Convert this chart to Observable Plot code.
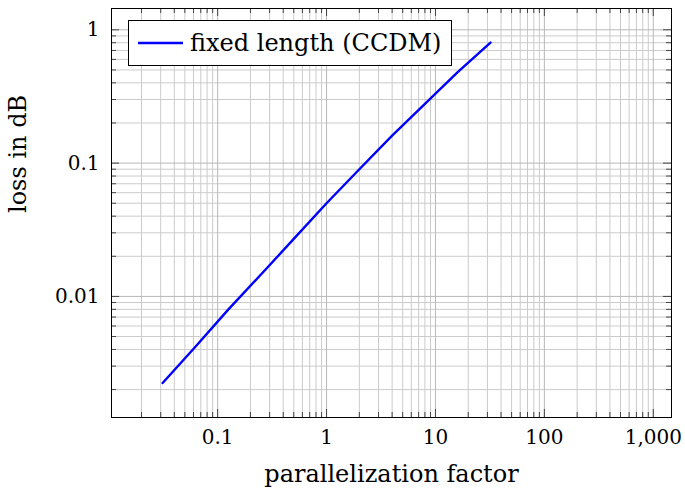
<!DOCTYPE html>
<html><head><meta charset="utf-8">
<script src="https://cdn.jsdelivr.net/npm/d3@7"></script>
<script src="https://cdn.jsdelivr.net/npm/@observablehq/plot@0.6"></script>
<style>
body{margin:0;background:#fff;}
#chart{position:relative;width:685px;height:494px;}
</style></head><body><div id="chart"></div>
<script>
// data
const factors = [1/32, 1/16, 1/8, 1/4, 1/2, 1, 2, 4, 8, 16, 32];
const lossDb  = [0.00224, 0.00419, 0.00796, 0.0146, 0.0270, 0.0500, 0.0900, 0.1607, 0.278, 0.482, 0.802];
const seriesName = "fixed length (CCDM)";
const xTickValues = [0.1, 1, 10, 100, 1000];
const xTickLabels = ["0.1", "1", "10", "100", "1,000"];
const yTickValues = [0.01, 0.1, 1];
const yTickLabels = ["0.01", "0.1", "1"];
const xLabel = "parallelization factor";
const yLabel = "loss in dB";
const xDomain = [0.0106, 1470];
const yDomain = [0.001235, 1.445];

const W = 685, H = 494, mL = 111, mR = 14, mT = 8, mB = 77;
const innerH = H - mT - mB, innerW = W - mL - mR;
const FONT = "DejaVu Serif";
const FS_TICK = 20, FS_LABEL = 24;

function minorTicks(domain) {
  const out = [];
  for (let e = -4; e <= 4; e++) for (let k = 2; k <= 9; k++) {
    const v = k * Math.pow(10, e);
    if (v >= domain[0] && v <= domain[1]) out.push(v);
  }
  return out;
}
const xMinor = minorTicks(xDomain);
const yMinor = minorTicks(yDomain);
const data = factors.map((x, i) => ({x, y: lossDb[i]}));
const xFmt = new Map(xTickValues.map((v, i) => [v, xTickLabels[i]]));
const yFmt = new Map(yTickValues.map((v, i) => [v, yTickLabels[i]]));

const gridMinor = "#cbcbcb", gridMajor = "#b8b8b8", tickCol = "#444";
const majLen = 8, minLen = 5;

const plot = Plot.plot({
  width: W, height: H,
  marginLeft: mL, marginRight: mR, marginTop: mT, marginBottom: mB,
  style: {fontFamily: FONT, fontSize: FS_TICK + "px", color: "#000", background: "#fff"},
  x: {type: "log", domain: xDomain},
  y: {type: "log", domain: yDomain},
  marks: [
    Plot.ruleX(xMinor, {stroke: gridMinor, strokeWidth: 1}),
    Plot.ruleY(yMinor, {stroke: gridMinor, strokeWidth: 1}),
    Plot.ruleX(xTickValues, {stroke: gridMajor, strokeWidth: 1}),
    Plot.ruleY(yTickValues, {stroke: gridMajor, strokeWidth: 1}),
    // inward ticks on all four sides
    Plot.tickX(xMinor, {insetTop: innerH - minLen, stroke: tickCol}),
    Plot.tickX(xMinor, {insetBottom: innerH - minLen, stroke: tickCol}),
    Plot.tickX(xTickValues, {insetTop: innerH - majLen, stroke: tickCol}),
    Plot.tickX(xTickValues, {insetBottom: innerH - majLen, stroke: tickCol}),
    Plot.tickY(yMinor, {insetRight: innerW - minLen, stroke: tickCol}),
    Plot.tickY(yMinor, {insetLeft: innerW - minLen, stroke: tickCol}),
    Plot.tickY(yTickValues, {insetRight: innerW - majLen, stroke: tickCol}),
    Plot.tickY(yTickValues, {insetLeft: innerW - majLen, stroke: tickCol}),
    Plot.line(data, {x: "x", y: "y", stroke: "#0000ff", strokeWidth: 2.4}),
    Plot.frame({stroke: "#000", strokeWidth: 1}),
    Plot.axisX(xTickValues, {tickSize: 0, tickPadding: 12, tickFormat: d => xFmt.get(d), label: null, fontVariant: "normal"}),
    Plot.axisY(yTickValues, {tickSize: 0, tickPadding: 12, tickFormat: d => yFmt.get(d), label: null, fontVariant: "normal"}),
    Plot.text([xLabel], {frameAnchor: "bottom", dy: 64, text: d => d, fontSize: FS_LABEL}),
    Plot.text([yLabel], {frameAnchor: "left", rotate: -90, dx: -93, text: d => d, fontSize: FS_LABEL})
  ]
});
document.getElementById("chart").appendChild(plot);

// legend (inside the plot, upper left)
const svg = d3.select(plot);
const lg = svg.append("g").attr("text-anchor", "start");
lg.append("rect").attr("x", 128.5).attr("y", 20.5).attr("width", 323).attr("height", 45)
  .attr("fill", "#fff").attr("stroke", "#000").attr("stroke-width", 1);
lg.append("line").attr("x1", 138).attr("x2", 183).attr("y1", 43).attr("y2", 43)
  .attr("stroke", "#0000ff").attr("stroke-width", 2.4);
lg.append("text").attr("x", 190).attr("y", 51).attr("font-family", FONT)
  .attr("font-size", FS_LABEL).attr("text-anchor", "start").text(seriesName);
</script></body></html>
